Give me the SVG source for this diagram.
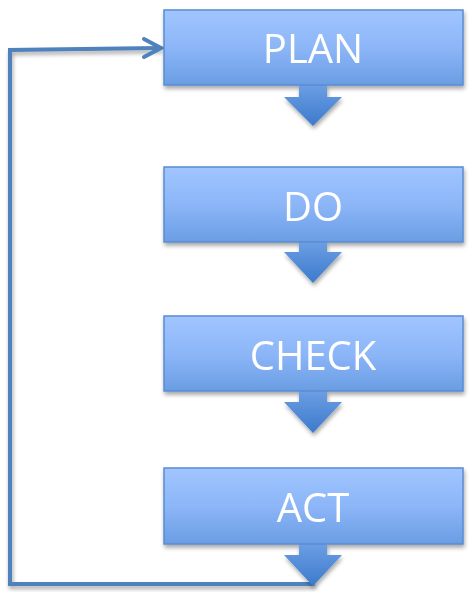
<svg xmlns="http://www.w3.org/2000/svg" width="471" height="592" viewBox="0 0 471 592">
<defs>
<linearGradient id="boxG" x1="0" y1="0" x2="0" y2="1">
<stop offset="0" stop-color="#a1c5ff"/>
<stop offset="0.5" stop-color="#8cb6f8"/>
<stop offset="1" stop-color="#6a9de3"/>
</linearGradient>
<linearGradient id="arrG" x1="0" y1="0" x2="0" y2="1">
<stop offset="0" stop-color="#6d9fe4"/>
<stop offset="1" stop-color="#3c7acc"/>
</linearGradient>
<filter id="sh" x="-10%" y="-10%" width="125%" height="135%">
<feGaussianBlur in="SourceAlpha" stdDeviation="2"/>
<feOffset dx="1" dy="3" result="b"/>
<feComponentTransfer><feFuncA type="linear" slope="0.35"/></feComponentTransfer>
<feMerge><feMergeNode/><feMergeNode in="SourceGraphic"/></feMerge>
</filter>
</defs>
<style>
.box{fill:url(#boxG);stroke:#5a8cd4;stroke-width:1.5}
.arr{fill:url(#arrG)}
.lbl{font-family:"Open Sans","Liberation Sans",sans-serif;font-size:40px;fill:#ffffff;text-anchor:middle}
.conn{fill:none;stroke:#4f81bd;stroke-width:4;stroke-linecap:round;stroke-linejoin:miter}
</style>
<g id="connectors">
<polyline class="conn" points="313,584 10,584 10,50 160,48" filter="url(#sh)"/>
<polyline class="conn" points="144,39 161,48 144,57"/>
</g>
<g id="plan" filter="url(#sh)">
<polygon class="arr" points="299,84 327,84 327,97 342,97 313,126 284,97 299,97"/>
<rect class="box" x="164" y="10" width="299" height="75"/>
<text class="lbl" x="313" y="63">PLAN</text>
</g>
<g id="do" filter="url(#sh)">
<polygon class="arr" points="299,241 327,241 327,252 342,252 313,283 284,252 299,252"/>
<rect class="box" x="164" y="167" width="299" height="75"/>
<text class="lbl" x="313" y="221">DO</text>
</g>
<g id="check" filter="url(#sh)">
<polygon class="arr" points="299,390 327,390 327,402 342,402 313,433 284,402 299,402"/>
<rect class="box" x="164" y="316" width="299" height="75"/>
<text class="lbl" x="313" y="370">CHECK</text>
</g>
<g id="act" filter="url(#sh)">
<polygon class="arr" points="299,543 327,543 327,555 342,555 313,586 284,555 299,555"/>
<rect class="box" x="164" y="468" width="299" height="76"/>
<text class="lbl" x="313" y="522">ACT</text>
</g>
</svg>
